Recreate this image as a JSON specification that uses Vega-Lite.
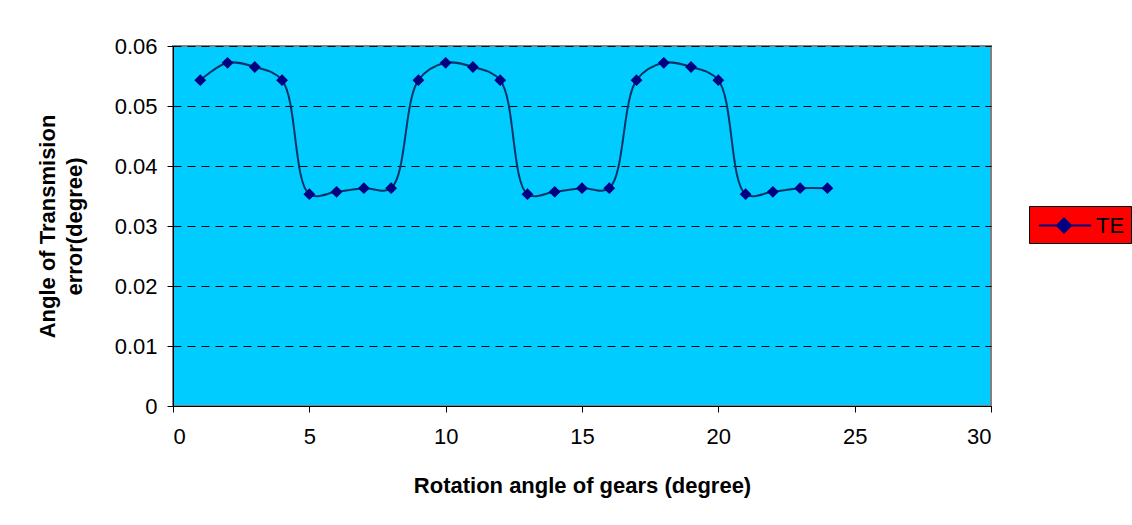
{
  "$schema": "https://vega.github.io/schema/vega-lite/v6.json",
  "width": 818,
  "height": 360,
  "autosize": {"type": "none"},
  "padding": {"left": 173, "top": 46, "right": 141, "bottom": 119},
  "background": "white",
  "config": {
    "font": "Liberation Sans",
    "view": {"fill": "#00CCFF", "stroke": "#808080", "strokeWidth": 2},
    "axis": {
      "labelFont": "Liberation Sans",
      "labelFontSize": 22,
      "labelColor": "black",
      "titleFont": "Liberation Sans",
      "titleFontSize": 22,
      "titleFontWeight": "bold",
      "titleColor": "black",
      "domainColor": "black",
      "tickColor": "black",
      "tickSize": 6
    }
  },
  "data": {
    "values": [
      {"angle": 1, "te": 0.0543, "series": "TE"},
      {"angle": 2, "te": 0.0572, "series": "TE"},
      {"angle": 3, "te": 0.0565, "series": "TE"},
      {"angle": 4, "te": 0.0543, "series": "TE"},
      {"angle": 5, "te": 0.0353, "series": "TE"},
      {"angle": 6, "te": 0.0357, "series": "TE"},
      {"angle": 7, "te": 0.0363, "series": "TE"},
      {"angle": 8, "te": 0.0363, "series": "TE"},
      {"angle": 9, "te": 0.0543, "series": "TE"},
      {"angle": 10, "te": 0.0572, "series": "TE"},
      {"angle": 11, "te": 0.0565, "series": "TE"},
      {"angle": 12, "te": 0.0543, "series": "TE"},
      {"angle": 13, "te": 0.0353, "series": "TE"},
      {"angle": 14, "te": 0.0357, "series": "TE"},
      {"angle": 15, "te": 0.0363, "series": "TE"},
      {"angle": 16, "te": 0.0363, "series": "TE"},
      {"angle": 17, "te": 0.0543, "series": "TE"},
      {"angle": 18, "te": 0.0572, "series": "TE"},
      {"angle": 19, "te": 0.0565, "series": "TE"},
      {"angle": 20, "te": 0.0543, "series": "TE"},
      {"angle": 21, "te": 0.0353, "series": "TE"},
      {"angle": 22, "te": 0.0357, "series": "TE"},
      {"angle": 23, "te": 0.0363, "series": "TE"},
      {"angle": 24, "te": 0.0363, "series": "TE"}
    ]
  },
  "encoding": {
    "x": {
      "field": "angle",
      "type": "quantitative",
      "scale": {"domain": [0, 30], "nice": false, "zero": true},
      "axis": {
        "values": [0, 5, 10, 15, 20, 25, 30],
        "grid": false,
        "labelPadding": 14,
        "title": "Rotation angle of gears (degree)",
        "titlePadding": 28
      }
    },
    "y": {
      "field": "te",
      "type": "quantitative",
      "scale": {"domain": [0, 0.06], "nice": false},
      "axis": {
        "values": [0, 0.01, 0.02, 0.03, 0.04, 0.05, 0.06],
        "format": "~g",
        "grid": true,
        "gridColor": "black",
        "gridDash": [8, 6],
        "gridWidth": 1,
        "labelPadding": 10,
        "title": ["Angle of Transmision", "error(degree)"],
        "titleLineHeight": 27,
        "titlePadding": 28
      }
    }
  },
  "layer": [
    {
      "mark": {"type": "line", "interpolate": "catmull-rom", "color": "#003366", "strokeWidth": 2}
    },
    {
      "mark": {"type": "point", "shape": "diamond", "filled": true, "opacity": 1, "size": 140},
      "encoding": {
        "color": {
          "field": "series",
          "type": "nominal",
          "scale": {"range": ["#000080"]},
          "legend": {
            "title": null,
            "orient": "none",
            "legendX": 856,
            "legendY": 160,
            "fillColor": "red",
            "strokeColor": "black",
            "padding": 6,
            "labelFontSize": 22,
            "labelFont": "Liberation Sans",
            "labelColor": "black",
            "labelOffset": 34,
            "symbolType": "M-0.76,0H3.4M1.24,-0.56L1.8,0L1.24,0.56L0.68,0Z",
            "symbolSize": 625,
            "symbolStrokeWidth": 2,
            "symbolStrokeColor": "#000080",
            "symbolFillColor": "#000080",
            "symbolOpacity": 1
          }
        }
      }
    }
  ]
}
